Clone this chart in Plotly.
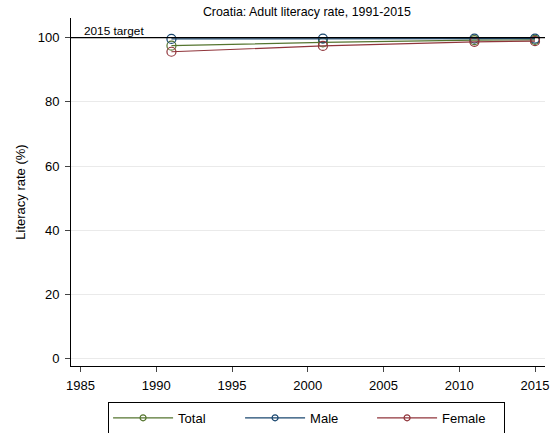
import plotly.graph_objects as go

years = [1991, 2001, 2011, 2015]
total = [97.5, 98.5, 99.2, 99.3]
male = [99.6, 99.7, 99.7, 99.7]
female = [95.6, 97.4, 98.7, 98.9]
target = 100
series = [("Total", total, "#55752f"), ("Male", male, "#1a476f"), ("Female", female, "#90353b")]

fig = go.Figure()
fig.add_hline(y=target, line=dict(color="black", width=1.2))
for name, vals, col in series:
    fig.add_trace(go.Scatter(x=years, y=vals, name=name, mode="lines+markers", showlegend=False,
                             legendgroup=name,
                             line=dict(color=col, width=1.2),
                             marker=dict(symbol="circle-open", size=9, color=col, line=dict(width=1.2))))
# legend entries (smaller symbols, as in the reference)
for name, vals, col in series:
    fig.add_trace(go.Scatter(x=[None], y=[None], name=name, mode="lines+markers", legendgroup=name,
                             line=dict(color=col, width=1.2),
                             marker=dict(symbol="circle-open", size=6, color=col, line=dict(width=1.2))))

fig.add_annotation(x=0.023, xref="paper", y=target, yref="y", text="2015 target",
                   showarrow=False, xanchor="left", yanchor="bottom", yshift=-2,
                   font=dict(size=11.8, color="black"))

fig.update_layout(
    width=557, height=433,
    margin=dict(l=71, r=12, t=18, b=67, autoexpand=False),
    paper_bgcolor="white", plot_bgcolor="white",
    font=dict(family="Liberation Sans, Arial", size=13, color="black"),
    title=dict(text="Croatia: Adult literacy rate, 1991-2015", x=0.551, xanchor="center",
               y=0.972, yanchor="middle", font=dict(size=12.4)),
    xaxis=dict(range=[1984.37, 2015.66], tickvals=[1985, 1990, 1995, 2000, 2005, 2010, 2015],
               ticks="outside", ticklen=5, showline=True, linecolor="black", linewidth=1,
               showgrid=False, zeroline=False, tickfont=dict(size=13), automargin=False,
               ticklabelstandoff=2),
    yaxis=dict(range=[-2.2, 106.1], tickvals=[0, 20, 40, 60, 80, 100], ticks="outside", ticklen=5,
               showline=True, linecolor="black", linewidth=1, gridcolor="#eaeaea", gridwidth=1,
               zeroline=False, title=dict(text="Literacy rate (%)", font=dict(size=13), standoff=9),
               tickfont=dict(size=13), automargin=False, ticklabelstandoff=3),
    legend=dict(orientation="h", x=0.497, xanchor="center", y=-0.103, yanchor="top",
                bordercolor="black", borderwidth=1, font=dict(size=13),
                entrywidth=57, itemwidth=60),
    showlegend=True,
)

fig.write_html("out.html", config={"displayModeBar": False},
               post_script="document.body.style.margin='0';document.body.style.overflow='hidden';")
